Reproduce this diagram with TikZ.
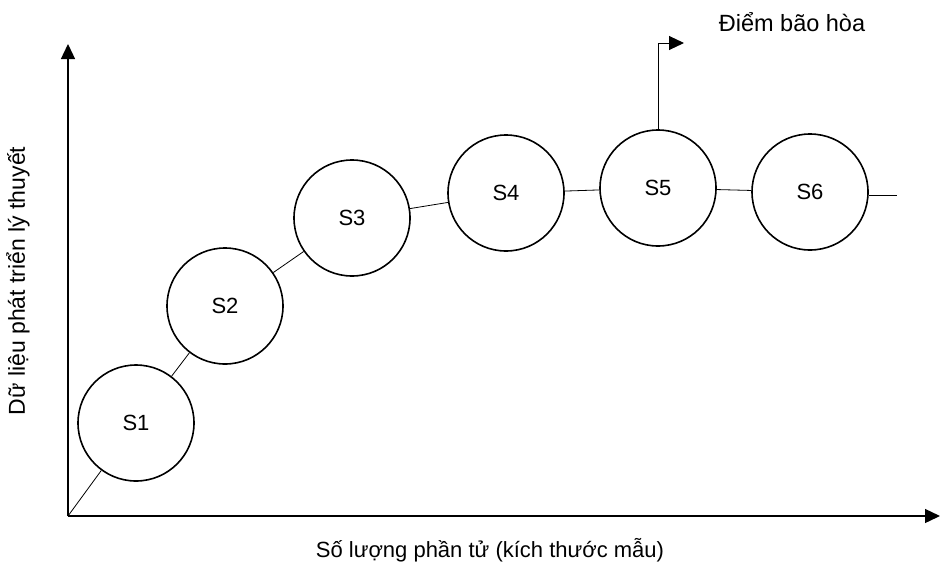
\documentclass[tikz,border=0pt]{standalone}
\usepackage{fontspec}
\setmainfont{Liberation Sans}
\usetikzlibrary{arrows.meta}
\begin{document}
\begin{tikzpicture}[x=1pt,y=-1pt,
  stage/.style={circle,draw,line width=1.6pt,minimum size=116pt,inner sep=0pt,font=\fontsize{22}{26}\selectfont},
  axis/.style={line width=1.3pt,-{Triangle[length=15pt,width=14pt]}},
  link/.style={line width=0.8pt},
  lbl/.style={font=\fontsize{22}{26}\selectfont}]
\useasboundingbox (0,0) rectangle (941,565);
\coordinate (O) at (68,516);
\coordinate (yend) at (68,44);
\coordinate (xend) at (940,516);
\draw[axis] (O) -- (yend);
\draw[axis] (O) -- (xend);
\node[stage] (s1) at (136,423) {S1};
\node[stage] (s2) at (225,306) {S2};
\node[stage] (s3) at (352,218) {S3};
\node[stage] (s4) at (506,193) {S4};
\node[stage] (s5) at (658,188) {S5};
\node[stage] (s6) at (810,192) {S6};
\coordinate (tail) at (897,195);
\draw[link] (O) -- (s1);
\draw[link] (s1) -- (s2);
\draw[link] (s2) -- (s3);
\draw[link] (s3) -- (s4);
\draw[link] (s4) -- (s5);
\draw[link] (s5) -- (s6);
\draw[link] (s6.east |- tail) -- (tail);
\coordinate (flag) at (684,43);
\draw[line width=1pt,-{Triangle[length=15pt,width=14pt]}] (s5.north) |- (flag);
\node[lbl,font=\fontsize{23.5}{28}\selectfont] (sat) at (792,22) {Điểm bão hòa};
\node[lbl] (xl) at (490,550) {Số lượng phần tử (kích thước mẫu)};
\node[lbl,rotate=90,font=\fontsize{23}{28}\selectfont] (yl) at (18,281) {Dữ liệu phát triển lý thuyết};
\end{tikzpicture}
\end{document}
